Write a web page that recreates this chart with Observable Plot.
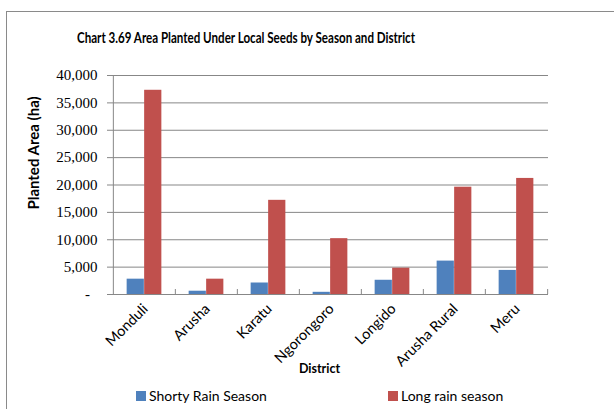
<!DOCTYPE html>
<html>
<head>
<meta charset="utf-8">
<script src="https://cdn.jsdelivr.net/npm/d3@7"></script>
<script src="https://cdn.jsdelivr.net/npm/@observablehq/plot@0.6"></script>
<style>
  html, body { margin: 0; padding: 0; background: #fff; }
  #chart { position: relative; width: 614px; height: 409px; overflow: hidden; background: #fff; }
  #frameTop { position: absolute; z-index: 5; left: 6px; top: 11px; width: 608px; height: 1px; background: #8a8a8a; }
  #frameLeft { position: absolute; z-index: 5; left: 6px; top: 11px; width: 1px; height: 398px; background: #8a8a8a; }
  #title { position: absolute; left: 77px; top: 27px; white-space: nowrap; font: bold 14px Lato, sans-serif; color: #000; transform-origin: 0 0; }
  #plot { position: absolute; left: 0; top: 50px; }
  .leg { position: absolute; top: 385px; white-space: nowrap; font: 14px Lato, sans-serif; color: #000; line-height: 22px; }
  .sw { display: inline-block; width: 10px; height: 10px; margin-right: 3px; }
</style>
</head>
<body>
<div id="chart">
  <div id="title">Chart 3.69 Area Planted Under Local Seeds by Season and District</div>
  <div id="plot"></div>
  <div class="leg" id="leg0" style="left:136px"></div>
  <div class="leg" id="leg1" style="left:388px"></div>
  <div id="frameTop"></div>
  <div id="frameLeft"></div>
</div>
<script>
// ---- data ----
const districts = ["Monduli", "Arusha", "Karatu", "Ngorongoro", "Longido", "Arusha Rural", "Meru"];
const shortRain = [2800, 600, 2100, 400, 2600, 6100, 4400];
const longRain = [37300, 2800, 17200, 10200, 4800, 19600, 21200];
const seriesNames = ["Shorty Rain Season", "Long rain season"];
const seriesColors = ["#4F81BD", "#C0504D"];
const yTicks = [0, 5000, 10000, 15000, 20000, 25000, 30000, 35000, 40000];
const yTitle = "Planted Area (ha)";
const xTitle = "District";

// ---- layout ----
const W = 614, H = 340, mL = 112, mR = 66, mT = 25, mB = 96;
const bw = (W - mL - mR) / districts.length;
const barW = 17.5;
const pad = (bw - 2 * barW) / 2;
const gray = "#878787";

const shortRows = districts.map((d, i) => ({district: d, value: shortRain[i]}));
const longRows = districts.map((d, i) => ({district: d, value: longRain[i]}));
const fmt = v => v === 0 ? "-\u00a0\u00a0" : d3.format(",")(v);

const chart = Plot.plot({
  width: W, height: H,
  marginLeft: mL, marginRight: mR, marginTop: mT, marginBottom: mB,
  style: {background: "transparent", color: "black", overflow: "visible"},
  x: {domain: districts, padding: 0, axis: null, label: null},
  y: {domain: [0, 40000], axis: null, label: null},
  marks: [
    Plot.ruleY(yTicks, {stroke: gray, strokeWidth: 1}),
    Plot.ruleX([districts[0]], {dx: -bw / 2, y1: 0, y2: 40000, insetTop: -5, stroke: gray}),
    Plot.ruleX(districts, {x: d => d, dx: -bw / 2, y1: 0, y2: 0, insetTop: -5, stroke: gray}),
    Plot.ruleX([districts[districts.length - 1]], {dx: bw / 2, y1: 0, y2: 0, insetTop: -5, stroke: gray}),
    Plot.axisY({ticks: yTicks, tickFormat: fmt, tickSize: 5, tickPadding: 10, stroke: gray,
      fontSize: 15, fontFamily: "Liberation Serif", label: null, anchor: "left"}),
    Plot.barY(shortRows, {x: "district", y: "value", fill: seriesColors[0], insetLeft: pad, insetRight: pad + barW}),
    Plot.barY(longRows, {x: "district", y: "value", fill: seriesColors[1], insetLeft: pad + barW, insetRight: pad}),
    Plot.axisX({tickSize: 0, tickPadding: 12, tickRotate: -45, fontSize: 14.5, fontFamily: "Lato", label: null, dx: 1}),
    Plot.text([yTitle], {frameAnchor: "left", textAnchor: "middle", lineAnchor: "middle", dx: -78, dy: -32, rotate: -90, fontSize: 15, fontWeight: "bold", fontFamily: "Lato"}),
    Plot.text([xTitle], {frameAnchor: "bottom", textAnchor: "middle", lineAnchor: "middle", dx: -11, dy: 74, fontSize: 12.5, fontWeight: "bold", fontFamily: "Lato"})
  ]
});
document.getElementById("plot").appendChild(chart);

// legend
seriesNames.forEach((name, i) => {
  const el = document.getElementById("leg" + i);
  const sw = document.createElement("span");
  sw.className = "sw";
  sw.style.background = seriesColors[i];
  el.appendChild(sw);
  el.appendChild(document.createTextNode(name));
});

// fit title width
const t = document.getElementById("title");
const nat = t.getBoundingClientRect().width;
t.style.transform = `scale(${338 / nat}, 1.12)`;
</script>
</body>
</html>
